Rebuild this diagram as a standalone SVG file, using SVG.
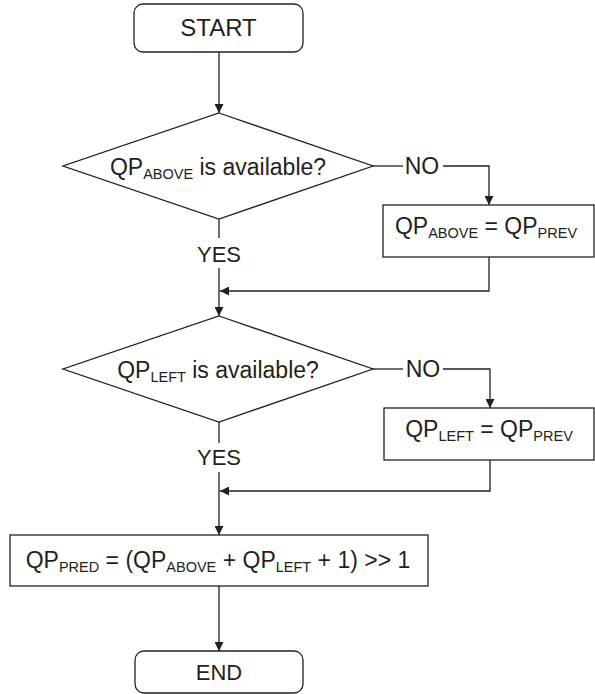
<svg xmlns="http://www.w3.org/2000/svg" width="595" height="694" viewBox="0 0 595 694">
<defs>
<marker id="ah" viewBox="0 0 10 10" refX="10" refY="5" markerWidth="9" markerHeight="9" markerUnits="userSpaceOnUse" orient="auto">
<path d="M0,0 L10,5 L0,10 Z" fill="#231f20"/>
</marker>
<style>
.s{fill:#fff;stroke:#231f20;stroke-width:1.3}
.c{fill:none;stroke:#231f20;stroke-width:1.3}
.t{font-family:"Liberation Sans",Arial,sans-serif;font-size:23px;fill:#231f20;text-anchor:middle}
.sub{font-size:14.5px}
</style>
</defs>
<g id="connectors">
<line class="c" x1="219" y1="52" x2="219" y2="113" marker-end="url(#ah)"/>
<polyline class="c" points="373,166 403,166"/>
<polyline class="c" points="443,166 489,166 489,205" marker-end="url(#ah)"/>
<line class="c" x1="219" y1="219" x2="219" y2="238"/>
<line class="c" x1="219" y1="268" x2="219" y2="316" marker-end="url(#ah)"/>
<polyline class="c" points="489,257 489,291 220,291" marker-end="url(#ah)"/>
<polyline class="c" points="373,369 403,369"/>
<polyline class="c" points="443,369 490,369 490,408" marker-end="url(#ah)"/>
<line class="c" x1="219" y1="422" x2="219" y2="443"/>
<line class="c" x1="219" y1="472" x2="219" y2="535" marker-end="url(#ah)"/>
<polyline class="c" points="490,460 490,491 220,491" marker-end="url(#ah)"/>
<line class="c" x1="219" y1="586" x2="219" y2="651" marker-end="url(#ah)"/>
<text class="t" x="219" y="262" style="font-size:22px">YES</text>
<text class="t" x="422" y="174">NO</text>
<text class="t" x="219" y="465" style="font-size:22px">YES</text>
<text class="t" x="423" y="377">NO</text>
</g>
<g id="start">
<rect class="s" x="134" y="4" width="169" height="48" rx="9"/>
<text class="t" x="218.5" y="36" style="font-size:24px">START</text>
</g>
<g id="dec1">
<polygon class="s" points="219,113 373,166 219,219 63,166"/>
<text class="t" x="218" y="175">QP<tspan class="sub" dy="4">ABOVE</tspan><tspan dy="-4"> is available?</tspan></text>
</g>
<g id="set-above">
<rect class="s" x="383" y="205" width="211" height="52"/>
<text class="t" x="486" y="234">QP<tspan class="sub" dy="4">ABOVE</tspan><tspan dy="-4"> = QP</tspan><tspan class="sub" dy="4">PREV</tspan></text>
</g>
<g id="dec2">
<polygon class="s" points="219,316 373,369 219,422 63,369"/>
<text class="t" x="218" y="378">QP<tspan class="sub" dy="4">LEFT</tspan><tspan dy="-4"> is available?</tspan></text>
</g>
<g id="set-left">
<rect class="s" x="384" y="408" width="210" height="52"/>
<text class="t" x="489" y="437">QP<tspan class="sub" dy="4">LEFT</tspan><tspan dy="-4"> = QP</tspan><tspan class="sub" dy="4">PREV</tspan></text>
</g>
<g id="pred">
<rect class="s" x="10" y="535" width="418" height="51"/>
<text class="t" x="218" y="568">QP<tspan class="sub" dy="4">PRED</tspan><tspan dy="-4"> = (QP</tspan><tspan class="sub" dy="4">ABOVE</tspan><tspan dy="-4"> + QP</tspan><tspan class="sub" dy="4">LEFT</tspan><tspan dy="-4"> + 1) &gt;&gt; 1</tspan></text>
</g>
<g id="end">
<rect class="s" x="135" y="651" width="168" height="42" rx="9"/>
<text class="t" x="219" y="680" style="font-size:22px">END</text>
</g>
</svg>
